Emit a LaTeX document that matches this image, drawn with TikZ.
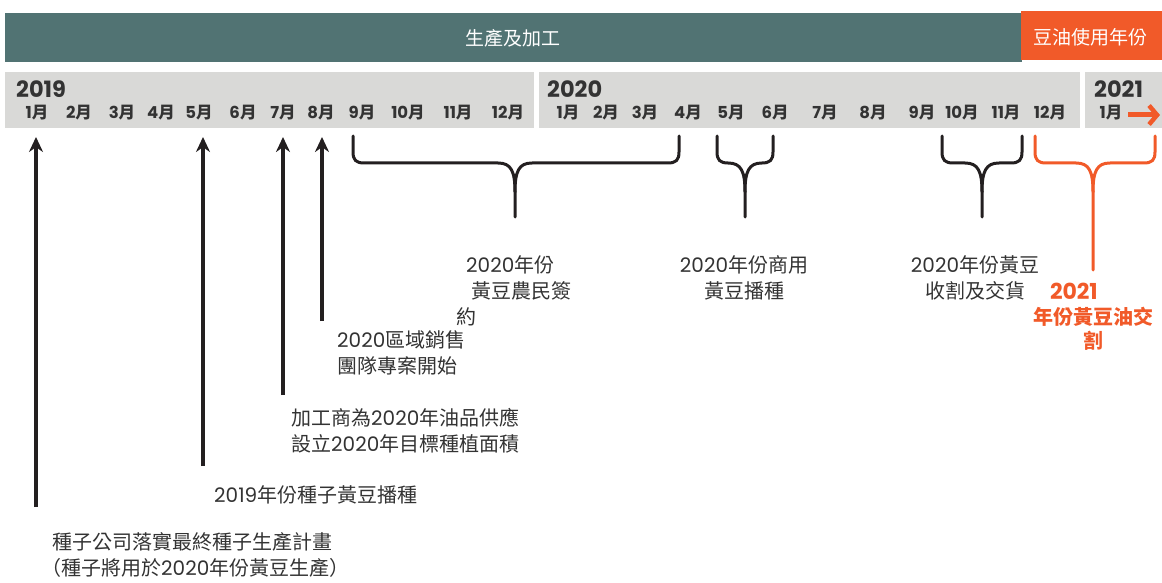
\documentclass[tikz,border=0pt]{standalone}
\usepackage{fontspec}
\setmainfont{Noto Sans CJK TC}
\newfontfamily\pop{Poppins}
\usetikzlibrary{arrows.meta}
\definecolor{hdrteal}{HTML}{517373}
\definecolor{hdrorange}{HTML}{F15A29}
\definecolor{bandgray}{HTML}{D9D9D7}
\definecolor{txtgray}{HTML}{333333}
\definecolor{inkblack}{HTML}{231F20}
\newcommand\N[1]{{\pop #1}}
\newcommand\M[1]{{\pop\bfseries #1}月}
\begin{document}
\begin{tikzpicture}[x=1pt,y=-1pt,
  hdr/.style={text=white,font=\fontsize{19}{22}\selectfont,inner sep=0pt},
  yr/.style={text=txtgray,font=\pop\bfseries\fontsize{22.5}{24}\selectfont,inner sep=0pt,anchor=west},
  mon/.style={text=txtgray,font=\bfseries\fontsize{16.5}{19}\selectfont,inner sep=0pt},
  lbl/.style={text=txtgray,font=\fontsize{20}{26}\selectfont,inner sep=0pt,align=left},
  clbl/.style={text=txtgray,font=\fontsize{20}{26}\selectfont,inner sep=0pt,align=center},
  olbl/.style={text=hdrorange,font=\bfseries\fontsize{20}{24.5}\selectfont,inner sep=0pt,align=center},
  uparrow/.style={draw=inkblack,line width=3.2pt,-{Stealth[length=15pt,width=14pt]}},
  bracket/.style={draw=inkblack,line width=3pt,line cap=round,line join=round},
  obracket/.style={bracket,draw=hdrorange}]
\useasboundingbox (0,0) rectangle (1162,583);
% header bars
\fill[hdrteal] (5,13) rectangle (1022,62);
\fill[hdrorange] (1021,11) rectangle (1162,60);
\node[hdr] (hprod) at (513,38) {生產及加工};
\node[hdr] (huse) at (1090,37) {豆油使用年份};
% gray bands
\fill[bandgray] (5,72) rectangle (534,128);
\fill[bandgray] (539,72) rectangle (1080,128);
\fill[bandgray] (1085,72) rectangle (1162,128);
\node[yr] (y2019) at (16,89) {2019};
\node[yr] (y2020) at (547,89) {2020};
\node[yr] (y2021) at (1094,89) {2021};
\foreach \x [count=\i] in {37,79,122,161,199,243,283,321,362,408,458,508}
  \node[mon] (ma\i) at (\x,113) {\M{\i}};
\foreach \x [count=\i] in {568,606,645,688,731,775,825,873,922,962,1006,1050}
  \node[mon] (mb\i) at (\x,113) {\M{\i}};
\node[mon] (mc1) at (1111,113) {\M{1}};
\coordinate (oa1) at (1128,115);
\coordinate (oa2) at (1160,115);
\draw[draw=hdrorange,line width=5pt,-{Straight Barb[length=8pt,width=19pt,line width=4.5pt]}] (oa1) -- (oa2);
% up arrows
\coordinate (t1) at (36,137); \coordinate (b1) at (36,507);
\coordinate (t2) at (203,137); \coordinate (b2) at (203,466);
\coordinate (t3) at (283,137); \coordinate (b3) at (283,395);
\coordinate (t4) at (322,137); \coordinate (b4) at (322,321);
\draw[uparrow] (b1) -- (t1);
\draw[uparrow] (b2) -- (t2);
\draw[uparrow] (b3) -- (t3);
\draw[uparrow] (b4) -- (t4);
% braces
\newcommand\brc[5]{% style, left, right, center, bottom
  \draw[#1] (#2,136) -- (#2,152) .. controls (#2,160) and (#2+3,163) .. (#2+11,163)
     -- (#4-17,163) .. controls (#4-4,163) and (#4,171) .. (#4,192) -- (#4,#5);
  \draw[#1] (#3,136) -- (#3,152) .. controls (#3,160) and (#3-3,163) .. (#3-11,163)
     -- (#4+17,163) .. controls (#4+4,163) and (#4,171) .. (#4,192);}
\brc{bracket}{353}{679}{515}{217}
\brc{bracket}{717}{773}{745}{217}
\brc{bracket}{942}{1022}{982}{217}
\brc{obracket}{1035}{1155}{1093}{270}
% labels
\node[lbl,anchor=west] (l1) at (41,555) {\hspace{11pt}種子公司落實最終種子生產計畫\\（種子將用於\N{2020}年份黃豆生產）};
\node[lbl,anchor=west] (l2) at (214,495) {\N{2019}年份種子黃豆播種};
\node[lbl,anchor=west] (l3) at (291,431) {加工商為\N{2020}年油品供應\\設立\N{2020}年目標種植面積};
\node[lbl,anchor=west] (l4) at (337,353) {\N{2020}區域銷售\\團隊專案開始};
\node[lbl,anchor=west] (l5) at (456,291) {\hspace{10pt}\N{2020}年份\\\hspace{15pt}黃豆農民簽\\約};
\node[clbl] (l6) at (744,278) {\N{2020}年份商用\\黃豆播種};
\node[clbl] (l7) at (975,278) {\N{2020}年份黃豆\\收割及交貨};
\node[olbl] (l8) at (1093,317) {\makebox[86pt][l]{\fontsize{22}{24.5}\selectfont\N{2021}}\\年份黃豆油交\\割};
\end{tikzpicture}
\end{document}
